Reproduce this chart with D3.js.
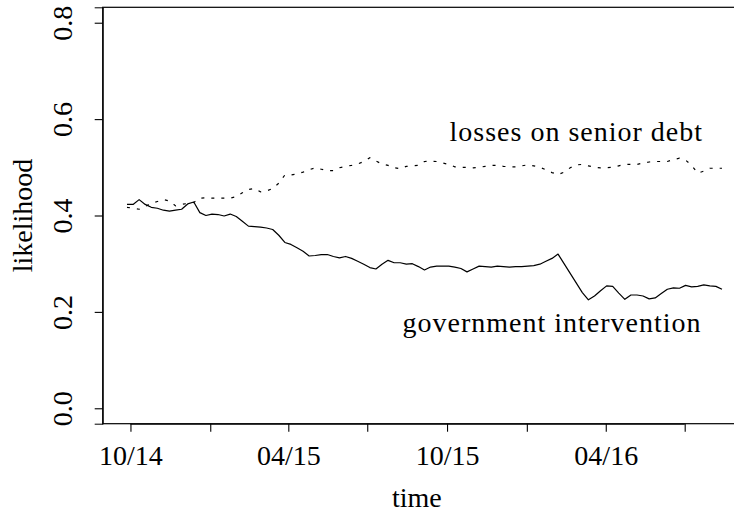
<!DOCTYPE html>
<html>
<head>
<meta charset="utf-8">
<script src="https://cdn.jsdelivr.net/npm/d3@7"></script>
<style>
  @font-face { font-family: "ChartSerif"; src: local("Liberation Serif"), local("LiberationSerif"), local("LiberationSerif-Regular"), local("Tinos"), local("Times New Roman"); }
  html, body { margin: 0; background: #fff; }
</style>
</head>
<body>
<svg id="chart" width="734" height="521"></svg>
<script>
// Weekly survey readings, first week starting 27 Sep 2014
const firstWeek = "2014-09-27";

// Likelihood of a government intervention (gaps = no survey that week)
const govIntervention = [
  0.423, 0.423, 0.433, 0.423, 0.417, 0.415, 0.411, 0.409, 0.411, 0.413,
  0.424, 0.428, 0.406, 0.400, 0.403, 0.402, 0.399, 0.403, 0.398, 0.388,
  0.378, 0.377, 0.376, 0.374, 0.371, 0.359, 0.344, 0.340, 0.333, 0.326,
  0.316, 0.317, 0.319, 0.319, 0.315, 0.312, 0.315, 0.311, 0.305, 0.299,
  0.292, 0.289, 0.299, 0.307, 0.302, 0.302, 0.299, 0.300, 0.294, 0.287,
  0.293, 0.295, 0.295, 0.295, 0.293, 0.290, 0.283, 0.289, 0.295, 0.294,
  0.293, 0.295, 0.294, 0.293, 0.294, 0.294, 0.295, 0.296, 0.299, 0.305,
  0.311, 0.320, null, null, null, 0.240, 0.225, 0.233, 0.244, 0.254,
  0.253, 0.239, 0.226, 0.235, 0.235, 0.233, 0.227, 0.229, 0.238, 0.247,
  0.250, 0.249, 0.255, 0.252, 0.253, 0.256, 0.254, 0.253, 0.247
];

// Likelihood of losses on senior debt
const seniorDebtLosses = [
  0.417, 0.415, 0.413, 0.419, 0.425, 0.429, 0.433, 0.430, 0.420, 0.423,
  0.425, 0.427, 0.436, 0.437, 0.436, 0.436, 0.436, 0.436, 0.439, 0.447,
  0.454, 0.456, 0.449, 0.451, 0.456, 0.467, 0.484, 0.484, 0.486, 0.490,
  0.495, 0.499, 0.496, 0.493, 0.493, 0.499, 0.502, 0.504, 0.507, 0.512,
  0.520, 0.513, 0.507, 0.504, 0.499, 0.497, 0.502, 0.503, 0.504, 0.512,
  0.513, 0.512, 0.509, 0.506, 0.501, 0.500, 0.500, 0.499, 0.500, 0.502,
  0.504, 0.504, 0.502, 0.501, 0.501, 0.503, 0.505, 0.503, 0.500, 0.495,
  0.489, 0.485, 0.490, 0.499, 0.505, 0.506, 0.503, 0.500, 0.499, 0.499,
  0.500, 0.503, 0.506, 0.506, 0.506, 0.509, 0.511, 0.512, 0.512, 0.512,
  0.516, 0.519, 0.515, 0.504, 0.488, 0.492, 0.498, 0.498, 0.498
];

// Axis ticks
const yTicks = [0.0, 0.2, 0.4, 0.6, 0.8];
const xTickDates = ["2014-10-01", "2015-01-01", "2015-04-01", "2015-07-01",
                    "2015-10-01", "2016-01-01", "2016-04-01", "2016-07-01"];
const xTickLabels = ["10/14", "", "04/15", "", "10/15", "", "04/16", ""];

const seriesNames = ["government intervention", "losses on senior debt"];

// ---------------------------------------------------------------
const parse = d3.utcParse("%Y-%m-%d");
const start = parse(firstWeek);
const weekDate = i => d3.utcDay.offset(start, 7 * i);

const svg = d3.select("#chart");
const plot = { left: 102.7, right: 735, top: 7.3, bottom: 423.7 };

const x = d3.scaleUtc()
  .domain([parse("2014-08-30"), parse("2016-08-28")])
  .range([plot.left, plot.right]);
const y = d3.scaleLinear()
  .domain([-0.032, 0.832])
  .range([plot.bottom, plot.top]);

const toPoints = vals => vals
  .map((v, i) => ({ date: weekDate(i), value: v }))
  .filter(d => d.value !== null);

const line = d3.line().x(d => x(d.date)).y(d => y(d.value));

// serif text, as set on every label
function serifText(sel) {
  sel.style("font-family", "'Liberation Serif', ChartSerif, Tinos, 'Times New Roman'")
     .attr("font-size", 28)
     .attr("fill", "#000");
}

// plot frame
svg.append("rect")
  .attr("x", plot.left).attr("y", plot.top)
  .attr("width", plot.right - plot.left).attr("height", plot.bottom - plot.top)
  .attr("fill", "none").attr("stroke", "#000").attr("stroke-width", 1.2);

// x axis
const xAxis = d3.axisBottom(x)
  .tickValues(xTickDates.map(parse))
  .tickSize(8).tickPadding(13)
  .tickFormat((d, i) => xTickLabels[i]);
const gx = svg.append("g")
  .attr("transform", `translate(0,${plot.bottom})`)
  .call(xAxis);
gx.select(".domain")
  .attr("d", `M${x(parse(xTickDates[0]))},0.5H${x(parse(xTickDates[xTickDates.length - 1]))}`)
  .attr("stroke", "#000");
gx.selectAll(".tick line").attr("stroke", "#000").attr("stroke-width", 1.1);
gx.selectAll(".tick text").call(serifText);

// y axis, labels turned to read upwards
const yAxis = d3.axisLeft(y)
  .tickValues(yTicks)
  .tickSize(8)
  .tickFormat(d3.format(".1f"));
const gy = svg.append("g")
  .attr("transform", `translate(${plot.left},0)`)
  .call(yAxis);
gy.select(".domain").attr("stroke", "#000");
gy.selectAll(".tick line").attr("stroke", "#000").attr("stroke-width", 1.1);
gy.selectAll(".tick text")
  .call(serifText)
  .attr("x", null).attr("dy", null)
  .attr("text-anchor", "middle")
  .attr("transform", "translate(-31,0) rotate(-90)");

// axis titles
svg.append("text")
  .attr("x", (plot.left + plot.right) / 2 - 2)
  .attr("y", 507)
  .attr("text-anchor", "middle")
  .call(serifText)
  .text("time");

svg.append("text")
  .attr("transform", `translate(32,${(plot.top + plot.bottom) / 2}) rotate(-90)`)
  .attr("text-anchor", "middle")
  .call(serifText)
  .text("likelihood");

// series
svg.append("path")
  .datum(toPoints(govIntervention))
  .attr("fill", "none")
  .attr("stroke", "#000")
  .attr("stroke-width", 1.2)
  .attr("stroke-linejoin", "round")
  .attr("d", line);

svg.append("path")
  .datum(toPoints(seniorDebtLosses))
  .attr("fill", "none")
  .attr("stroke", "#000")
  .attr("stroke-width", 1.2)
  .attr("stroke-dasharray", "3,7")
  .attr("d", line);

// series labels
svg.append("text")
  .attr("x", x(parse("2016-01-30")))
  .attr("y", y(0.158))
  .attr("text-anchor", "middle")
  .call(serifText)
  .attr("letter-spacing", 1)
  .text(seriesNames[0]);

svg.append("text")
  .attr("x", x(parse("2016-02-27")))
  .attr("y", y(0.5545))
  .attr("text-anchor", "middle")
  .call(serifText)
  .attr("letter-spacing", 1)
  .text(seriesNames[1]);
</script>
</body>
</html>
